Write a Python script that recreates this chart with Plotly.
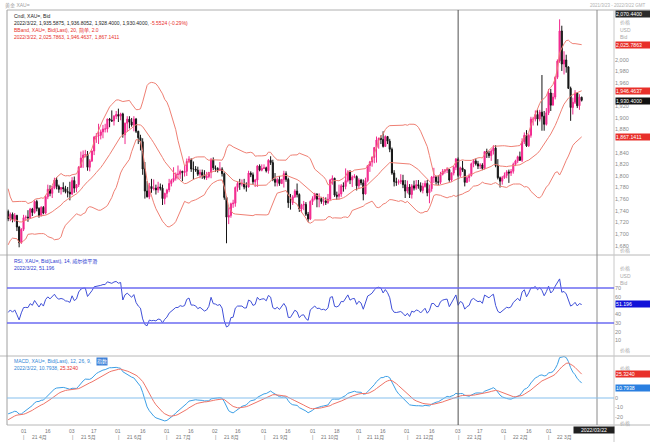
import pandas as pd
import plotly.graph_objects as go

# ---------------- data (XAU= daily) ----------------
warmup_close = [1943, 1950, 1918, 1913, 1849, 1844, 1855, 1845, 1851, 1827, 1840, 1840, 1871, 1870, 1855, 1855, 1850, 1843, 1843, 1848,
                1861, 1835, 1834, 1793, 1813, 1833, 1838, 1842, 1825, 1823, 1819, 1794, 1775, 1775, 1784, 1809, 1806, 1797, 1771, 1734,
                1723, 1737, 1713, 1697, 1700, 1683, 1716, 1726, 1723, 1719, 1731, 1731, 1745, 1736, 1745, 1739]

open_ = [1739, 1726, 1734, 1725, 1732, 1712, 1685, 1708, 1728, 1729,
         1728, 1743, 1737, 1756, 1744, 1732, 1746, 1736, 1764, 1777,
         1770, 1779, 1793, 1782, 1777, 1780, 1778, 1773, 1772, 1769,
         1792, 1779, 1785, 1815, 1831, 1836, 1837, 1815, 1826, 1843,
         1867, 1869, 1870, 1876, 1881, 1881, 1898, 1896, 1895, 1903,
         1906, 1903, 1907, 1871, 1891, 1898, 1893, 1888, 1898, 1877,
         1866, 1859, 1812, 1774, 1764, 1782, 1778, 1779, 1776, 1781,
         1779, 1761, 1770, 1776, 1787, 1792, 1796, 1803, 1803, 1808,
         1806, 1808, 1825, 1829, 1812, 1812, 1810, 1803, 1806, 1801,
         1797, 1799, 1806, 1828, 1814, 1813, 1810, 1812, 1804, 1763,
         1729, 1732, 1752, 1753, 1780, 1787, 1786, 1787, 1781, 1781,
         1805, 1802, 1790, 1793, 1817, 1810, 1813, 1814, 1809, 1827,
         1823, 1794, 1789, 1794, 1787, 1794, 1804, 1794, 1754, 1754,
         1764, 1774, 1768, 1743, 1750, 1751, 1734, 1726, 1756, 1761,
         1769, 1760, 1761, 1756, 1757, 1754, 1760, 1793, 1796, 1767,
         1765, 1769, 1783, 1782, 1792, 1807, 1793, 1798, 1799, 1783,
         1793, 1788, 1769, 1792, 1818, 1824, 1832, 1849, 1862, 1865,
         1863, 1851, 1868, 1860, 1846, 1805, 1790, 1789, 1790, 1792,
         1785, 1774, 1781, 1768, 1783, 1779, 1785, 1783, 1775, 1782,
         1787, 1771, 1778, 1798, 1798, 1790, 1789, 1803, 1808, 1810,
         1811, 1793, 1805, 1815, 1829, 1801, 1814, 1810, 1789, 1797,
         1801, 1821, 1826, 1821, 1817, 1819, 1813, 1842, 1839, 1835,
         1843, 1848, 1818, 1797, 1791, 1797, 1801, 1807, 1805, 1808,
         1820, 1826, 1833, 1827, 1859, 1870, 1852, 1870, 1898, 1898,
         1906, 1898, 1910, 1903, 1889, 1909, 1943, 1922, 1936, 1970,
         1998, 2050, 1993, 2000, 1988, 1951, 1918, 1927, 1943, 1921, 1935.5875]

high = [1742, 1737, 1737, 1736, 1733, 1714, 1710, 1733, 1732, 1741,
        1745, 1745, 1758, 1759, 1746, 1748, 1748, 1766, 1785, 1784,
        1783, 1797, 1798, 1785, 1781, 1789, 1783, 1781, 1790, 1798,
        1799, 1786, 1817, 1842, 1844, 1845, 1843, 1829, 1844, 1869,
        1874, 1890, 1880, 1888, 1890, 1899, 1900, 1913, 1905, 1912,
        1916, 1909, 1909, 1892, 1903, 1903, 1900, 1903, 1900, 1878,
        1871, 1865, 1824, 1791, 1788, 1795, 1794, 1785, 1790, 1787,
        1785, 1771, 1778, 1795, 1795, 1815, 1806, 1818, 1811, 1809,
        1818, 1830, 1834, 1830, 1825, 1817, 1816, 1811, 1811, 1810,
        1807, 1807, 1831, 1832, 1818, 1815, 1824, 1815, 1806, 1765,
        1746, 1754, 1759, 1782, 1790, 1795, 1794, 1795, 1789, 1809,
        1808, 1806, 1795, 1819, 1820, 1820, 1820, 1816, 1829, 1834,
        1828, 1805, 1797, 1800, 1795, 1809, 1808, 1797, 1769, 1767,
        1777, 1787, 1770, 1752, 1757, 1755, 1738, 1758, 1765, 1771,
        1770, 1770, 1764, 1764, 1763, 1769, 1795, 1801, 1797, 1773,
        1785, 1786, 1789, 1813, 1810, 1810, 1801, 1803, 1801, 1796,
        1795, 1794, 1797, 1819, 1826, 1834, 1850, 1868, 1866, 1870,
        1877, 1870, 1869, 1864, 1849, 1810, 1797, 1794, 1803, 1802,
        1793, 1792, 1786, 1786, 1792, 1793, 1793, 1789, 1788, 1792,
        1793, 1785, 1800, 1814, 1800, 1801, 1807, 1812, 1812, 1815,
        1812, 1806, 1817, 1831, 1832, 1816, 1826, 1812, 1799, 1804,
        1823, 1829, 1830, 1826, 1822, 1822, 1843, 1847, 1843, 1846,
        1853, 1853, 1829, 1799, 1800, 1806, 1810, 1811, 1812, 1823,
        1828, 1835, 1842, 1865, 1875, 1879, 1873, 1902, 1902, 1913,
        1914, 1914, 1974, 1912, 1917, 1950, 1950, 1943, 1972, 2001,
        2070, 2059, 2015, 2009, 1989, 1954, 1935, 1948, 1944, 1941, 1936.8052]

low = [1722, 1722, 1720, 1721, 1705, 1677, 1683, 1705, 1724, 1721,
       1726, 1731, 1735, 1739, 1728, 1730, 1734, 1734, 1760, 1765,
       1762, 1777, 1777, 1771, 1768, 1772, 1770, 1763, 1758, 1767,
       1771, 1772, 1781, 1814, 1814, 1832, 1809, 1808, 1824, 1836,
       1857, 1855, 1863, 1865, 1875, 1875, 1884, 1893, 1887, 1898,
       1893, 1896, 1866, 1855, 1876, 1882, 1885, 1877, 1874, 1855,
       1844, 1802, 1761, 1763, 1760, 1771, 1775, 1768, 1771, 1775,
       1750, 1751, 1763, 1772, 1782, 1789, 1792, 1794, 1795, 1791,
       1799, 1800, 1822, 1807, 1794, 1807, 1800, 1796, 1795, 1794,
       1793, 1796, 1796, 1810, 1807, 1806, 1809, 1799, 1759, 1684,
       1717, 1728, 1745, 1747, 1773, 1776, 1782, 1777, 1773, 1780,
       1798, 1785, 1781, 1781, 1808, 1808, 1812, 1806, 1804, 1819,
       1791, 1782, 1782, 1783, 1786, 1780, 1790, 1745, 1742, 1750,
       1762, 1763, 1738, 1737, 1741, 1731, 1721, 1724, 1750, 1758,
       1746, 1746, 1752, 1749, 1750, 1752, 1759, 1785, 1764, 1759,
       1760, 1764, 1773, 1777, 1789, 1786, 1781, 1796, 1775, 1778,
       1784, 1758, 1768, 1789, 1807, 1816, 1822, 1823, 1847, 1855,
       1849, 1850, 1855, 1841, 1802, 1782, 1783, 1785, 1786, 1779,
       1762, 1770, 1762, 1761, 1775, 1776, 1778, 1772, 1770, 1780,
       1765, 1753, 1773, 1788, 1785, 1784, 1786, 1801, 1804, 1805,
       1790, 1790, 1801, 1810, 1798, 1798, 1807, 1782, 1788, 1790,
       1799, 1815, 1818, 1812, 1812, 1810, 1811, 1831, 1831, 1826,
       1837, 1815, 1794, 1780, 1785, 1795, 1796, 1788, 1800, 1804,
       1817, 1822, 1826, 1824, 1855, 1850, 1850, 1866, 1887, 1894,
       1887, 1894, 1878, 1878, 1887, 1905, 1912, 1922, 1932, 1967,
       1995, 1981, 1975, 1978, 1950, 1895, 1906, 1924, 1917, 1914, 1928.4]

close = [1726, 1734, 1725, 1732, 1712, 1685, 1708, 1728, 1729, 1728,
         1743, 1737, 1756, 1744, 1732, 1746, 1736, 1764, 1777, 1770,
         1779, 1793, 1782, 1777, 1780, 1778, 1773, 1772, 1769, 1792,
         1779, 1785, 1815, 1831, 1836, 1837, 1815, 1826, 1843, 1867,
         1869, 1870, 1876, 1881, 1881, 1898, 1896, 1895, 1903, 1906,
         1903, 1907, 1871, 1891, 1898, 1893, 1888, 1898, 1877, 1866,
         1859, 1812, 1774, 1764, 1782, 1778, 1779, 1776, 1781, 1779,
         1761, 1770, 1776, 1787, 1792, 1796, 1803, 1803, 1808, 1806,
         1808, 1825, 1829, 1812, 1812, 1810, 1803, 1806, 1801, 1797,
         1799, 1806, 1828, 1814, 1813, 1810, 1812, 1804, 1763, 1729,
         1732, 1752, 1753, 1780, 1787, 1786, 1787, 1781, 1781, 1805,
         1802, 1790, 1793, 1817, 1810, 1813, 1814, 1809, 1827, 1823,
         1794, 1789, 1794, 1787, 1794, 1804, 1794, 1754, 1754, 1764,
         1774, 1768, 1743, 1750, 1751, 1734, 1726, 1756, 1761, 1769,
         1760, 1761, 1756, 1757, 1754, 1760, 1793, 1796, 1767, 1765,
         1769, 1783, 1782, 1792, 1807, 1793, 1798, 1799, 1783, 1793,
         1788, 1769, 1792, 1818, 1824, 1832, 1849, 1862, 1865, 1863,
         1851, 1868, 1860, 1846, 1805, 1790, 1789, 1790, 1792, 1785,
         1774, 1781, 1768, 1783, 1779, 1785, 1783, 1775, 1782, 1787,
         1771, 1778, 1798, 1798, 1790, 1789, 1803, 1808, 1810, 1811,
         1793, 1805, 1815, 1829, 1801, 1814, 1810, 1789, 1797, 1801,
         1821, 1826, 1821, 1817, 1819, 1813, 1842, 1839, 1835, 1843,
         1848, 1818, 1797, 1791, 1797, 1801, 1807, 1805, 1808, 1820,
         1826, 1833, 1827, 1859, 1870, 1852, 1870, 1898, 1898, 1906,
         1898, 1910, 1903, 1889, 1909, 1943, 1922, 1936, 1970, 1998,
         2050, 1993, 2000, 1988, 1951, 1918, 1927, 1943, 1921, 1936, 1930.4]

# value labels shown on the right-hand scale / legends
last_bb = ["2,025.7863", "1,946.4637", "1,867.1411"]
last_bb_val = [2025.7863, 1946.4637, 1867.1411]
last_close_txt = "1,930.4000"
last_rsi, last_rsi_txt = 51.196, "51.196"
last_macd, last_macd_txt = 10.7938, "10.7938"
last_sig, last_sig_txt = 25.3240, "25.3240"
price_ticks = [1680, 1700, 1720, 1740, 1760, 1780, 1800, 1820, 1840, 1880, 1900, 1920, 1960, 1980, 2000]
rsi_ticks = [10, 20, 30, 40, 60, 70]
macd_ticks = [-20, -10, 0]

assert len(open_) == len(high) == len(low) == len(close)

# ---------------- indicators ----------------
n0 = len(warmup_close)
dates = pd.bdate_range("2021-01-04", periods=n0 + len(close))
vis = dates[n0:]
allc = pd.Series(warmup_close + close, dtype=float)
mid = allc.rolling(20).mean()
sd = allc.rolling(20).std(ddof=0)
upper, lower = mid + 2 * sd, mid - 2 * sd
d = allc.diff()
g = d.clip(lower=0).ewm(alpha=1 / 14, adjust=False).mean()
l_ = (-d.clip(upper=0)).ewm(alpha=1 / 14, adjust=False).mean()
rsi = 100 - 100 / (1 + g / l_)
macd = allc.ewm(span=12, adjust=False).mean() - allc.ewm(span=26, adjust=False).mean()
sig = macd.ewm(span=9, adjust=False).mean()
x = list(range(len(close)))


def vis_part(s):
    return s.iloc[n0:].tolist()


PINK = "#f2288e"
BBC = "#ef8074"
FONT = "Liberation Sans, Noto Sans CJK SC, sans-serif"

fig = go.Figure()
fig.add_trace(go.Candlestick(
    x=x, open=open_, high=high, low=low, close=close,
    increasing=dict(line=dict(color=PINK, width=1), fillcolor=PINK),
    decreasing=dict(line=dict(color="#151515", width=1), fillcolor="#151515"),
    hoverinfo="skip", showlegend=False, xaxis="x", yaxis="y"))
for s in (upper, mid, lower):
    fig.add_trace(go.Scatter(x=x, y=vis_part(s), mode="lines", line=dict(color=BBC, width=1),
                             hoverinfo="skip", showlegend=False, xaxis="x", yaxis="y"))
fig.add_trace(go.Scatter(x=x, y=vis_part(rsi), mode="lines", line=dict(color="#4050d8", width=1),
                         hoverinfo="skip", showlegend=False, xaxis="x", yaxis="y2"))
fig.add_trace(go.Scatter(x=x, y=vis_part(macd), mode="lines", line=dict(color="#3c9fe6", width=1),
                         hoverinfo="skip", showlegend=False, xaxis="x", yaxis="y3"))
fig.add_trace(go.Scatter(x=x, y=vis_part(sig), mode="lines", line=dict(color="#ef7468", width=1),
                         hoverinfo="skip", showlegend=False, xaxis="x", yaxis="y3"))

# geometry helpers (pixel -> paper)
L, R, T, B = 7, 614, 10, 425
W, H = R - L, B - T


def px(xp):
    return (xp - L) / W


def py(yp):
    return (B - yp) / H


axis_common = dict(showgrid=False, zeroline=False, side="right", anchor="x", ticks="",
                   tickfont=dict(size=5.5, color="#8a8a8a", family=FONT), showline=False)
fig.update_layout(
    width=650, height=442,
    margin=dict(l=L, r=650 - R, t=T, b=442 - B, autoexpand=False),
    paper_bgcolor="white", plot_bgcolor="white", showlegend=False,
    xaxis=dict(range=[-0.5, -0.5 + W / 2.206], showticklabels=False, showgrid=False, zeroline=False,
               anchor="y3", rangeslider=dict(visible=False), fixedrange=True),
    yaxis=dict(domain=[py(255), 1], range=[1663.75, 2086.1], tickvals=price_ticks,
               ticktext=[f"{v:,}" for v in price_ticks], **axis_common),
    yaxis2=dict(domain=[py(356), py(255)], range=[-7.7, 107.7], tickvals=rsi_ticks,
                ticktext=[str(v) for v in rsi_ticks], **axis_common),
    yaxis3=dict(domain=[0, py(356)], range=[-28.4, 44.2], tickvals=macd_ticks,
                ticktext=[str(v) for v in macd_ticks], **axis_common),
)

shapes = []
line = lambda c, w=1: dict(color=c, width=w)
for yy in (255, 356):
    shapes.append(dict(type="line", xref="paper", yref="paper", x0=px(0), x1=px(650), y0=py(yy), y1=py(yy), line=line("#b8b8b8")))
shapes.append(dict(type="line", xref="paper", yref="paper", x0=0, x1=px(650), y0=0, y1=0, line=line("#b8b8b8")))
shapes.append(dict(type="line", xref="paper", yref="paper", x0=0, x1=px(650), y0=1, y1=1, line=line("#b0b0b0")))
shapes.append(dict(type="line", xref="paper", yref="paper", x0=0, x1=0, y0=0, y1=1, line=line("#a0a0a0")))
shapes.append(dict(type="line", xref="paper", yref="paper", x0=1, x1=1, y0=py(442), y1=1, line=line("#c8c8c8")))
shapes.append(dict(type="line", xref="paper", yref="paper", x0=px(597), x1=px(597), y0=0, y1=1, line=line("#8a8a8a")))
jan3 = int(list(vis).index(pd.Timestamp("2022-01-03")))
shapes.append(dict(type="line", xref="x", yref="paper", x0=jan3, x1=jan3, y0=0, y1=1, line=line("#505050")))
for v in (70, 30):
    shapes.append(dict(type="line", xref="paper", yref="y2", x0=0, x1=1, y0=v, y1=v, line=line("#6b6bf2", 1.3)))
shapes.append(dict(type="line", xref="paper", yref="y3", x0=0, x1=1, y0=0, y1=0, line=line("#86c0ee", 1.2)))
fig.update_layout(shapes=shapes)

ann = []
LEG = 5


def txt(xp, yp, text, color, size=LEG, xanchor="left", **kw):
    ann.append(dict(xref="paper", yref="paper", x=px(xp), y=py(yp), text=text, showarrow=False,
                    xanchor=xanchor, yanchor="middle", font=dict(size=size, color=color, family=FONT), **kw))


def box(yval, yref, text, bg, yshift=0):
    ann.append(dict(xref="paper", yref=yref, x=px(615), y=yval, text=text, showarrow=False, xanchor="left",
                    yanchor="middle", bgcolor=bg, width=34, align="left", borderpad=0, yshift=yshift,
                    font=dict(size=5.2, color="white", family=FONT)))


RED = "#e8302a"
# title strip
txt(3, 5, "黄金 XAU=", "#a0a0a0", 5)
txt(648, 5, "2021/3/23 - 2022/3/22 GMT", "#b0b0b0", 4.5, xanchor="right")
# main legend
txt(12, 16, "Cndl, XAU=, Bid", "#222")
txt(12, 23, "2022/3/22, 1,935.5875, 1,936.8052, 1,928.4000, 1,930.4000, "
            "<span style='color:#e8302a'>-5.5524 (-0.29%)</span>", "#222")
txt(12, 30, "BBand, XAU=, Bid(Last), 20, 简单, 2.0", RED)
txt(12, 37, "2022/3/22, 2,025.7863, 1,946.4637, 1,867.1411", RED)
# RSI legend
txt(12, 261, "RSI, XAU=, Bid(Last), 14, 威尔德平滑", "#2a3ad0")
txt(12, 268, "2022/3/22, 51.196", "#2a3ad0")
# MACD legend
txt(12, 361, "MACD, XAU=, Bid(Last), 12, 26, 9,", "#2f86d6")
ann.append(dict(xref="paper", yref="paper", x=px(96), y=py(361), text="指数", showarrow=False, xanchor="left",
                yanchor="middle", bgcolor="#3a7fd8", borderpad=0, font=dict(size=LEG, color="white", family=FONT)))
txt(12, 368, "2022/3/22, 10.7938, <span style='color:#e8302a'>25.3240</span>", "#2f86d6")

# right-side scale headers
for yp, t in ((23, "价格"), (30, "USD"), (37, "Bid"), (250, "价格"), (268, "价格"), (276, "USD"), (283, "Bid"),
              (350, "价格"), (368, "价格"), (423.5, "价格")):
    txt(618, yp, t, "#a8a8a8", 5)

# value boxes
ann.append(dict(xref="paper", yref="paper", x=px(615), y=py(14), text="2,070.4400", showarrow=False, xanchor="left",
                yanchor="middle", bgcolor="#2a2a2a", width=34, align="left", borderpad=0,
                font=dict(size=5.2, color="white", family=FONT)))
box(last_bb_val[0], "y", last_bb[0], RED)
box(last_bb_val[1], "y", last_bb[1], RED)
box(close[-1], "y", last_close_txt, "#111111", yshift=-1)
box(last_bb_val[2], "y", last_bb[2], RED)
box(last_rsi, "y2", last_rsi_txt, "#1212d8")
box(last_sig, "y3", last_sig_txt, RED)
box(last_macd, "y3", last_macd_txt, "#2a7fe0")

# x-axis labels (two rows)
XF = dict(size=5, color="#777", family=FONT)
pos = pd.Series(range(len(vis)), index=vis)
for (yr, mo), grp in pos.groupby([vis.year, vis.month]):
    idxs = grp.values
    dd = vis[idxs]
    if dd[0].day <= 3:
        i0 = int(idxs[0])
        ann.append(dict(xref="x", yref="paper", x=i0, y=py(430.5), text=f"{dd[0].day:02d}", showarrow=False,
                        xanchor="center", yanchor="middle", font=XF))
        ann.append(dict(xref="x", yref="paper", x=i0, y=py(437.5), text="|", showarrow=False,
                        xanchor="center", yanchor="middle", font=XF))
        ann.append(dict(xref="x", yref="paper", x=i0 + 3, y=py(437.5), text=f"{yr % 100} {mo}月", showarrow=False,
                        xanchor="left", yanchor="middle", font=XF))
    mids = [int(i) for i, dt in zip(idxs, dd) if 16 <= dt.day <= 18]
    if mids and mids[0] < 255:
        im = mids[0]
        ann.append(dict(xref="x", yref="paper", x=im, y=py(430.5), text=f"{vis[im].day:02d}", showarrow=False,
                        xanchor="center", yanchor="middle", font=XF))

ann.append(dict(xref="paper", yref="paper", x=px(573), y=py(429.5), text="2022/03/22", showarrow=False,
                xanchor="left", yanchor="middle", bgcolor="#202020", width=40, borderpad=0,
                font=dict(size=5.2, color="white", family=FONT)))
fig.update_layout(annotations=ann)

fig.write_html("out.html", config={"displayModeBar": False},
               post_script="document.body.style.margin='0';document.body.style.padding='0';")
